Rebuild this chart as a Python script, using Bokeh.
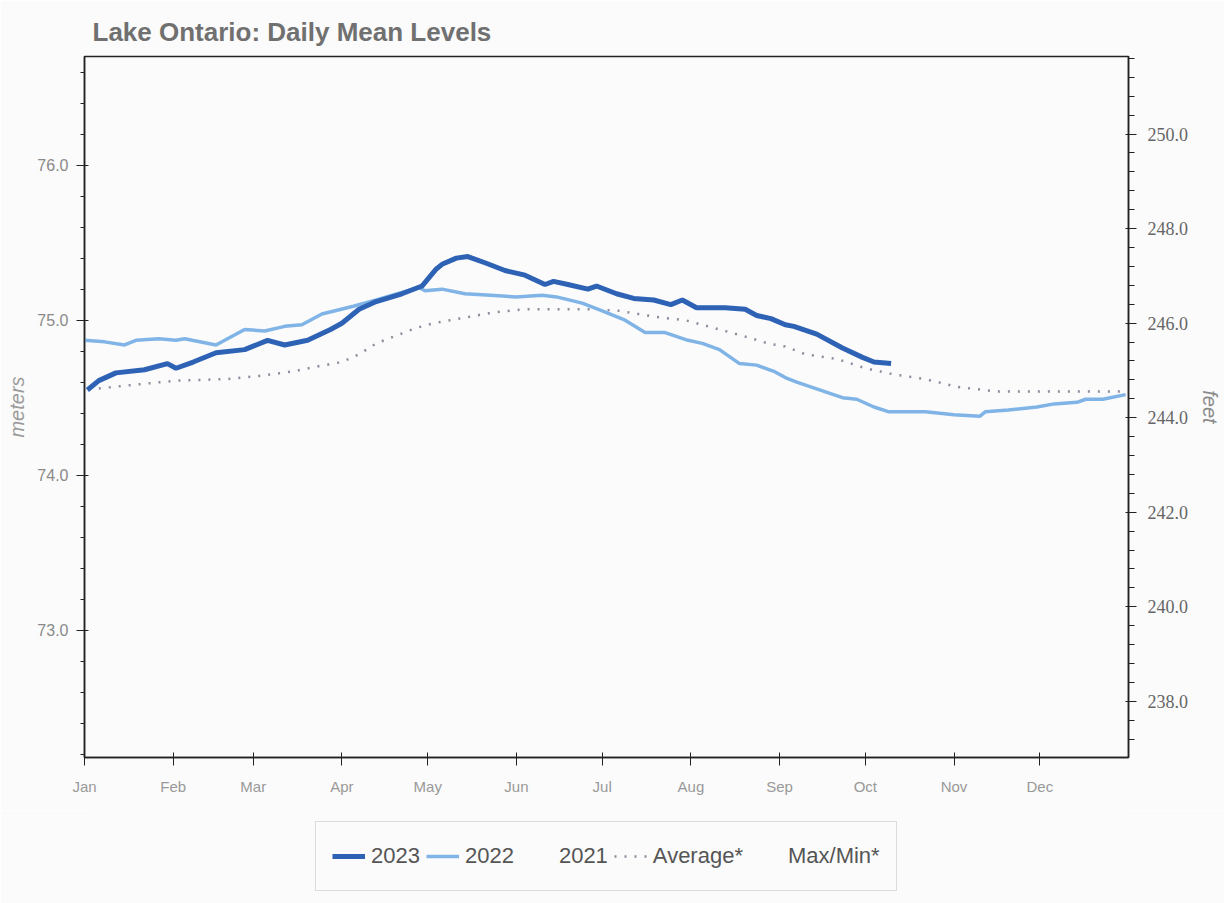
from bokeh.plotting import figure
from bokeh.layouts import column
from bokeh.models import (Range1d, LinearAxis, FixedTicker, SingleIntervalTicker, Legend,
                          LegendItem, NumeralTickFormatter)
from bokeh.embed import file_html
from bokeh.resources import INLINE

# ---------------- data (day of year, metres) ----------------
month_days = [0, 31, 59, 90, 120, 151, 181, 212, 243, 273, 304, 334]
month_labels = ["Jan", "Feb", "Mar", "Apr", "May", "Jun", "Jul", "Aug", "Sep", "Oct", "Nov", "Dec"]

d2023 = [1, 5, 11, 21, 29, 32, 38, 46, 56, 64, 70, 78, 86, 90, 96, 102, 111, 118, 123, 125,
         130, 134, 140, 147, 154, 161, 164, 169, 176, 179, 186, 192, 199, 205, 209, 214, 224,
         231, 235, 240, 245, 248, 256, 265, 272, 276, 282]
m2023 = [74.55, 74.61, 74.66, 74.68, 74.72, 74.69, 74.73, 74.79, 74.81, 74.87, 74.84, 74.87,
         74.94, 74.98, 75.07, 75.12, 75.17, 75.22, 75.33, 75.36, 75.40, 75.41, 75.37, 75.32,
         75.29, 75.23, 75.25, 75.23, 75.20, 75.22, 75.17, 75.14, 75.13, 75.10, 75.13, 75.08,
         75.08, 75.07, 75.03, 75.01, 74.97, 74.96, 74.91, 74.82, 74.76, 74.73, 74.72]

d2022 = [0, 7, 14, 18, 26, 32, 35, 46, 50, 56, 63, 70, 76, 83, 94, 102, 113, 117, 119, 125,
         133, 142, 151, 160, 165, 174, 181, 189, 196, 203, 211, 216, 222, 229, 235, 241, 245,
         249, 257, 265, 270, 276, 281, 294, 304, 313, 315, 323, 333, 339, 347, 350, 356, 364]
m2022 = [74.87, 74.86, 74.84, 74.87, 74.88, 74.87, 74.88, 74.84, 74.88, 74.94, 74.93, 74.96,
         74.97, 75.04, 75.09, 75.13, 75.19, 75.21, 75.19, 75.20, 75.17, 75.16, 75.15, 75.16,
         75.15, 75.11, 75.06, 75.00, 74.92, 74.92, 74.87, 74.85, 74.81, 74.72, 74.71, 74.67,
         74.63, 74.60, 74.55, 74.50, 74.49, 74.44, 74.41, 74.41, 74.39, 74.38, 74.41, 74.42,
         74.44, 74.46, 74.47, 74.49, 74.49, 74.52]

d_avg = [5, 21, 32, 50, 61, 73, 81, 90, 96, 102, 109, 116, 122, 131, 143, 154, 168, 178, 187,
         200, 210, 218, 230, 239, 245, 252, 263, 273, 283, 294, 305, 319, 335, 349, 363]
m_avg = [74.56, 74.59, 74.61, 74.62, 74.64, 74.67, 74.70, 74.73, 74.78, 74.85, 74.90, 74.95,
         74.98, 75.01, 75.05, 75.07, 75.07, 75.07, 75.06, 75.02, 75.00, 74.96, 74.90, 74.85,
         74.83, 74.78, 74.75, 74.69, 74.65, 74.62, 74.57, 74.54, 74.54, 74.54, 74.54]

legend_labels = ["2023", "2022", "2021", "Average*", "Max/Min*"]

Y_MIN, Y_MAX = 72.18, 76.70
FT = 0.3048

C2023 = "#2d62b5"
C2022 = "#80b4e6"
CAVG = "#8c8c9c"
BG = "#fbfbfb"

# ---------------- main figure ----------------
p = figure(width=1224, height=810, output_backend="svg", toolbar_location=None,
           x_range=Range1d(0, 365), y_range=Range1d(Y_MIN, Y_MAX),
           min_border_left=84, min_border_right=96, min_border_top=56, min_border_bottom=53,
           title="Lake Ontario: Daily Mean Levels")

p.background_fill_color = BG
p.border_fill_color = BG
p.outline_line_color = "#222222"
p.outline_line_width = 1.5
p.xgrid.visible = False
p.ygrid.visible = False

p.title.text_font = "Liberation Sans"
p.title.text_font_size = "26px"
p.title.text_font_style = "bold"
p.title.text_color = "#707070"
p.title.offset = 8
p.title.standoff = 20

# x axis
xa = p.xaxis[0]
xa.ticker = FixedTicker(ticks=month_days, minor_ticks=[])
xa.major_label_overrides = {d: l for d, l in zip(month_days, month_labels)}
xa.major_label_text_font = "Liberation Sans"
xa.major_label_text_font_size = "15px"
xa.major_label_text_color = "#999999"
xa.major_label_standoff = 12
xa.major_tick_in = 5
xa.major_tick_out = 8
xa.axis_line_color = "#222222"
xa.axis_line_width = 1.5
xa.major_tick_line_color = "#222222"

# left axis (meters)
ya = p.yaxis[0]
ya.ticker = SingleIntervalTicker(interval=1, num_minor_ticks=5)
ya.formatter = NumeralTickFormatter(format="0.0")
ya.axis_label = "meters"
ya.axis_label_text_font = "Liberation Sans"
ya.axis_label_text_font_style = "italic"
ya.axis_label_text_font_size = "20px"
ya.axis_label_text_color = "#9a9a9a"
ya.axis_label_standoff = 6
ya.major_label_text_font = "Liberation Sans"
ya.major_label_text_font_size = "16px"
ya.major_label_text_color = "#8a8a8a"
ya.major_label_standoff = 8
ya.major_tick_in = 4
ya.major_tick_out = 8
ya.minor_tick_in = 0
ya.minor_tick_out = 4
ya.axis_line_color = "#222222"
ya.axis_line_width = 1.5
ya.major_tick_line_color = "#222222"
ya.minor_tick_line_color = "#222222"

# right axis (feet)
p.extra_y_ranges = {"ft": Range1d(Y_MIN / FT, Y_MAX / FT)}
ra = LinearAxis(y_range_name="ft",
                ticker=SingleIntervalTicker(interval=2, num_minor_ticks=5),
                formatter=NumeralTickFormatter(format="0.0"))
ra.axis_label = "feet"
ra.axis_label_text_font = "Liberation Sans"
ra.axis_label_text_font_style = "italic"
ra.axis_label_text_font_size = "20px"
ra.axis_label_text_color = "#8a8a8a"
ra.axis_label_standoff = 8
ra.major_label_text_font = "Liberation Serif"
ra.major_label_text_font_size = "18px"
ra.major_label_text_color = "#666666"
ra.major_label_standoff = 11
ra.major_tick_in = 3
ra.major_tick_out = 8
ra.minor_tick_in = 0
ra.minor_tick_out = 6
ra.axis_line_color = "#222222"
ra.axis_line_width = 1.5
ra.major_tick_line_color = "#222222"
ra.minor_tick_line_color = "#222222"
p.add_layout(ra, "right")

# ---------------- series ----------------
p.line(d_avg, m_avg, line_color=CAVG, line_width=2.5, line_dash="2 8")
p.line(d2022, m2022, line_color=C2022, line_width=3.5)
p.line(d2023, m2023, line_color=C2023, line_width=5)

# ---------------- legend strip ----------------
lg = figure(width=1224, height=93, output_backend="svg", toolbar_location=None,
            x_range=Range1d(0, 1), y_range=Range1d(0, 1),
            x_axis_location=None, y_axis_location=None, min_border=0)
lg.background_fill_color = BG
lg.border_fill_color = BG
lg.outline_line_color = None
lg.xgrid.visible = False
lg.ygrid.visible = False

# legend-only keys: placed outside the strip's visible range so only the legend swatches show
off = [5, 6]
k23 = lg.line(off, off, line_color=C2023, line_width=5)
k22 = lg.line(off, off, line_color=C2022, line_width=3.5)
k21 = lg.line(off, off, line_color=BG, line_alpha=0)
kavg = lg.line(off, off, line_color=CAVG, line_width=2.5, line_dash="2 8")
kmm = lg.line(off, off, line_color=BG, line_alpha=0)

legend = Legend(items=[LegendItem(label=legend_labels[0], renderers=[k23]),
                       LegendItem(label=legend_labels[1], renderers=[k22]),
                       LegendItem(label=legend_labels[2], renderers=[k21]),
                       LegendItem(label=legend_labels[3], renderers=[kavg]),
                       LegendItem(label=legend_labels[4], renderers=[kmm])],
                orientation="horizontal", location=(231, 12),
                glyph_width=33, glyph_height=20, label_height=36,
                label_standoff=6, spacing=6, padding=16, margin=0,
                label_text_font="Liberation Sans", label_text_font_size="22px",
                label_text_color="#555555",
                border_line_color="#bbbbbb", border_line_width=1,
                background_fill_color=BG, background_fill_alpha=1.0)
lg.add_layout(legend)

layout = column(p, lg, spacing=0)
open("out.html", "w").write(file_html(layout, INLINE))
